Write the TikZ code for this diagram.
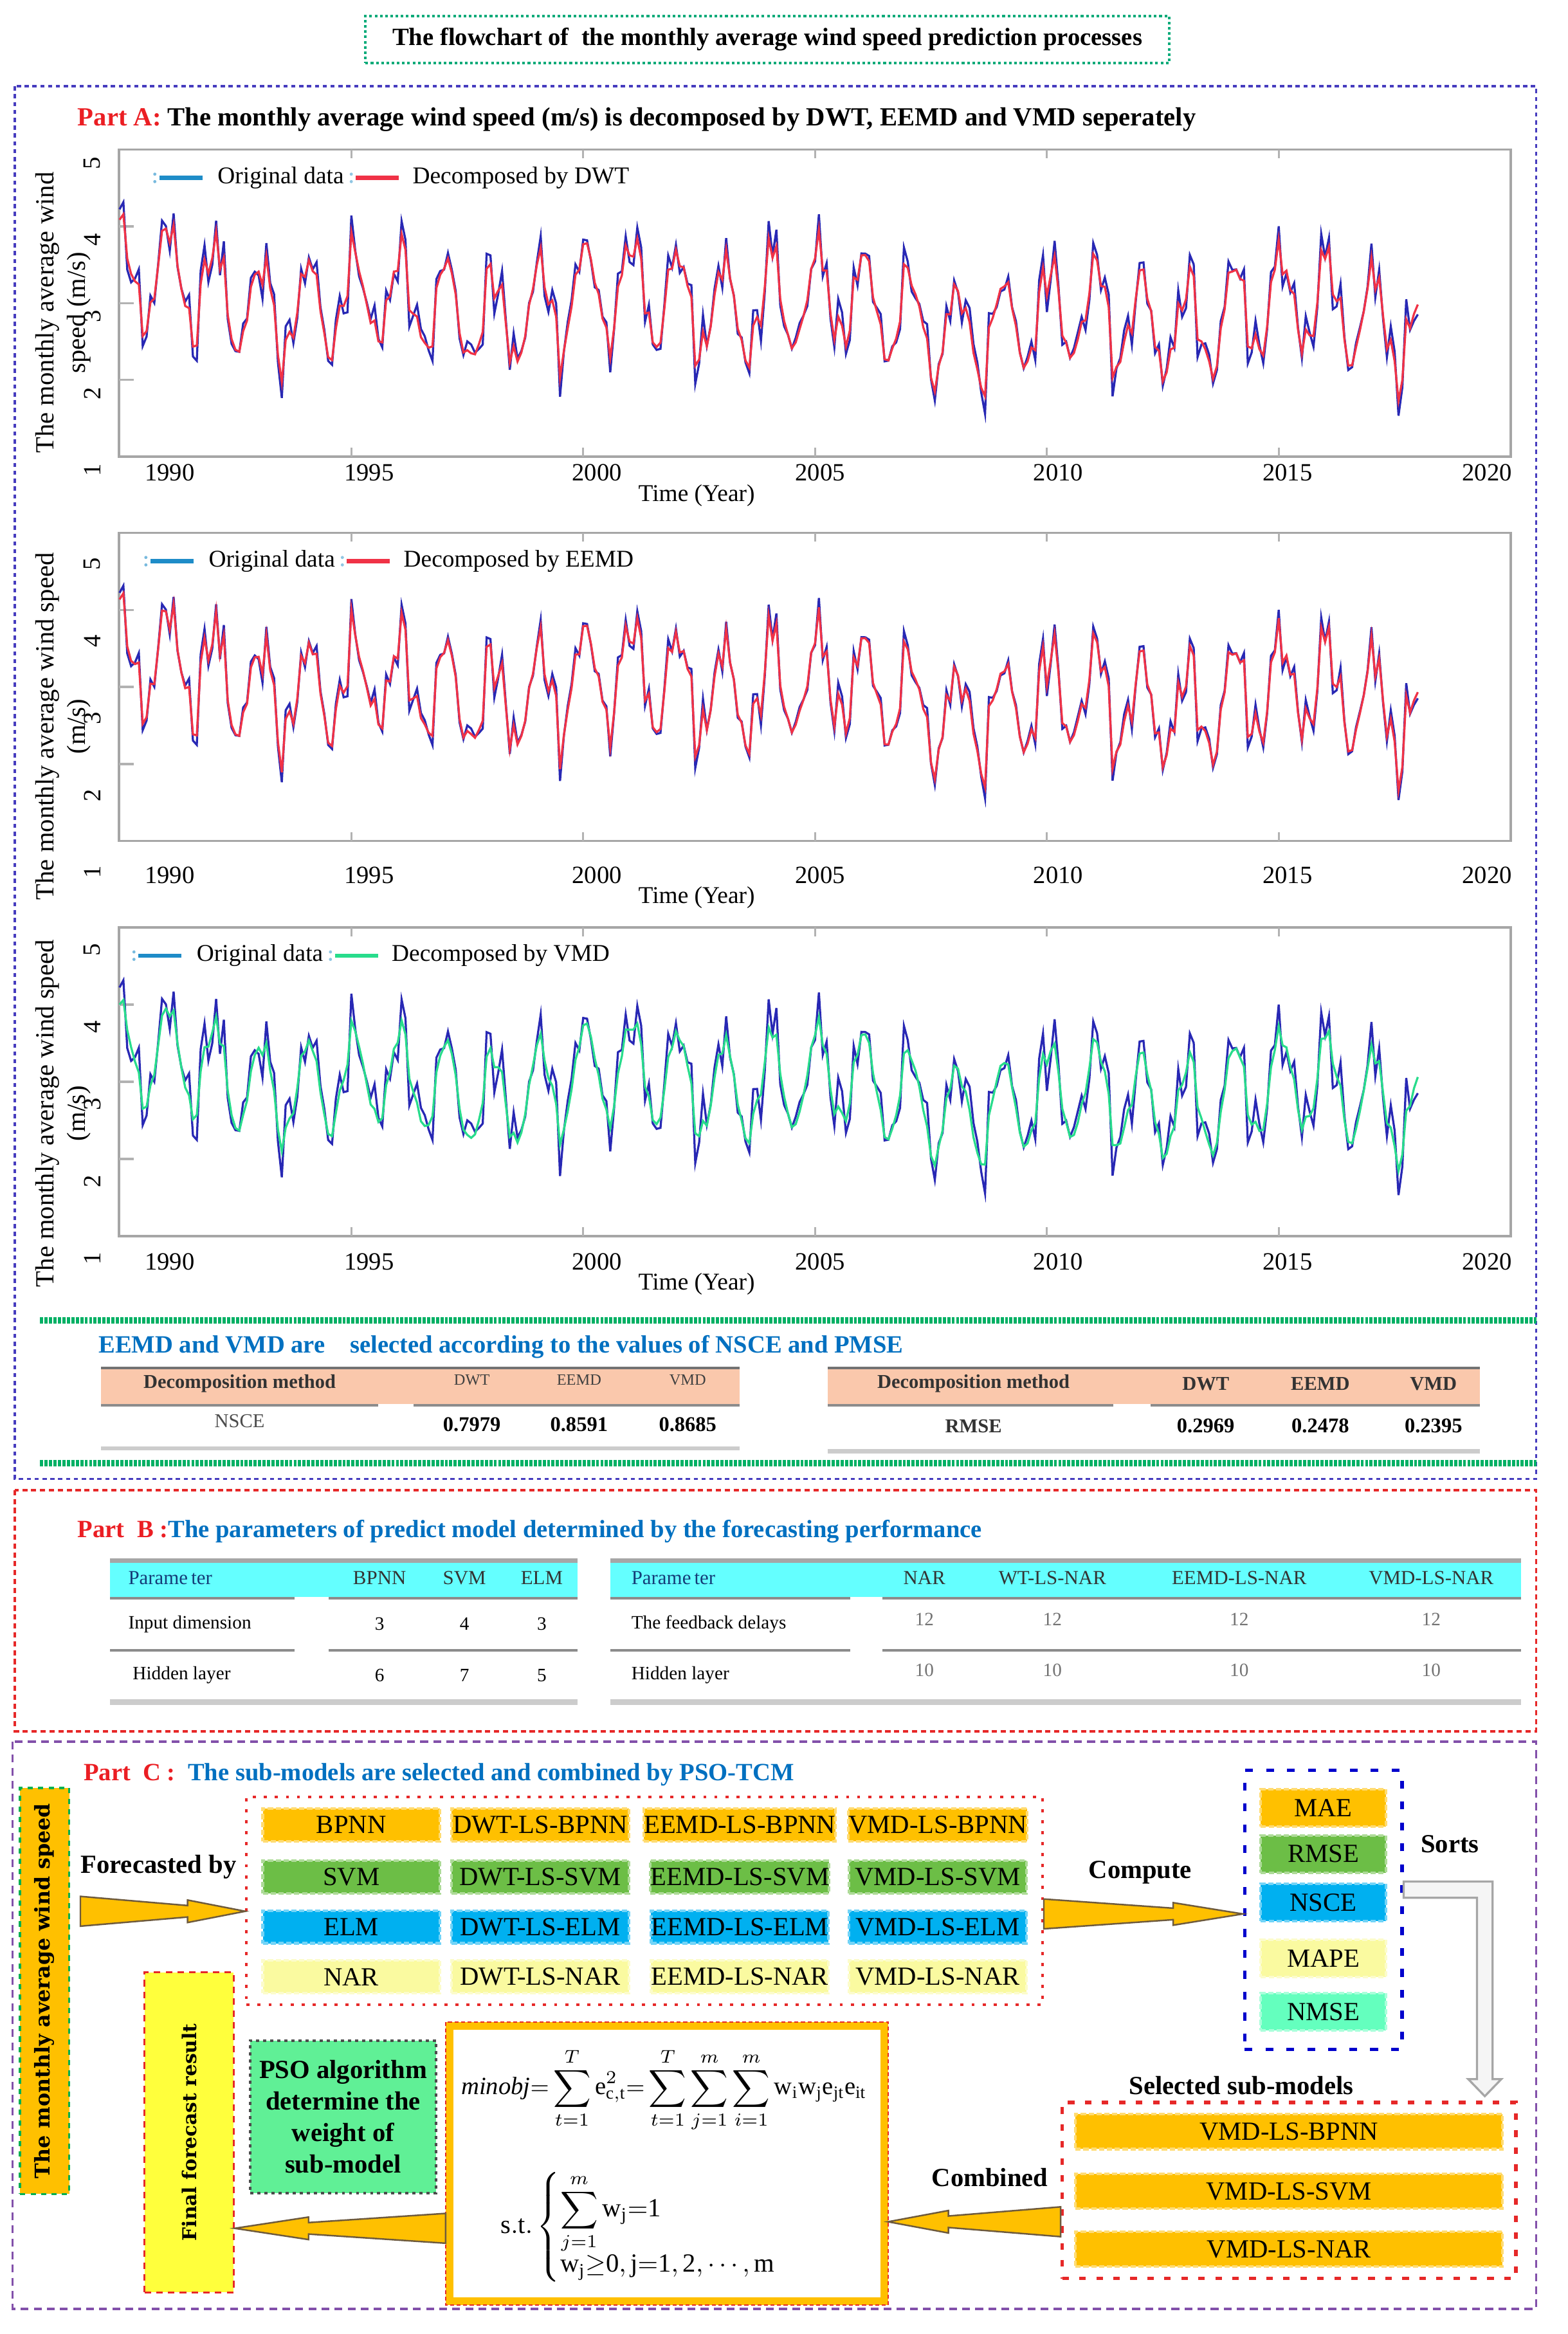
\documentclass[tikz,border=0pt]{standalone}
\usepackage{fontspec}
\setmainfont{Liberation Serif}
\newfontfamily\dvserif{DejaVu Serif}
\usetikzlibrary{calc,fit}

\definecolor{cOrange}{RGB}{255,192,0}
\definecolor{cGreen}{RGB}{108,190,70}
\definecolor{cBlue}{RGB}{0,176,240}
\definecolor{cYellow}{RGB}{250,250,160}
\definecolor{cMint}{RGB}{100,255,190}
\definecolor{cPso}{RGB}{96,240,150}
\definecolor{cFinal}{RGB}{255,255,60}
\definecolor{cSalmon}{RGB}{250,200,172}
\definecolor{cCyan}{RGB}{100,255,255}
\definecolor{cHead}{RGB}{0,112,192}
\definecolor{cRed}{RGB}{235,30,35}
\definecolor{cNavy}{RGB}{20,60,120}
\definecolor{lineBlue}{RGB}{40,40,180}
\definecolor{lineRed}{RGB}{240,50,70}
\definecolor{lineGreen}{RGB}{40,220,140}
\definecolor{legBlue}{RGB}{30,140,200}
\definecolor{boxA}{RGB}{70,60,190}
\definecolor{boxB}{RGB}{230,40,40}
\definecolor{boxC}{RGB}{130,80,170}
\definecolor{titleGreen}{RGB}{0,170,120}
\definecolor{waveGreen}{RGB}{0,176,100}
\definecolor{inGreen}{RGB}{0,176,80}
\definecolor{arrowEdge}{RGB}{110,90,60}

\newcommand\fs[1]{\fontsize{#1}{#1}\selectfont}

\newcommand\fatarrow[2]{%
  \filldraw[fatarrow] let \p1=(#1), \p2=(#2), \p3=($(#1)!0.65!(#2)$) in
    (\x1,\y1+5.7pt) -- (\x3,\y2+2.2pt) -- (\x3,\y2+4.3pt) -- (\p2)
    -- (\x3,\y2-4.3pt) -- (\x3,\y2-2.2pt) -- (\x1,\y1-5.7pt) -- cycle;}

\newcommand\sortarrow[2]{%
  \filldraw[sortarrow] let \p1=(#1), \p2=(#2) in
    (\x1,\y1+3.1pt) -- (\x2+3pt,\y1+3.1pt) -- (\x2+3pt,\y2+6.5pt) -- (\x2+6.3pt,\y2+6.5pt)
    -- (\p2) -- (\x2-6.3pt,\y2+6.5pt) -- (\x2-3pt,\y2+6.5pt) -- (\x2-3pt,\y1-3.1pt)
    -- (\x1,\y1-3.1pt) -- cycle;}

\begin{document}
\begin{tikzpicture}[x=0.02cm, y=-0.02cm,
  declare function={wind(\m,\q)=3.1+0.16*sin(6.1*\m+30)+0.12*sin(2.3*\m+100)-0.0012*\m+0.62*cos(30*\m-20)+\q*(0.26*sin(97*mod(round(\m),13)+10)+0.2*sin(151*mod(round(\m),11)+40)+0.17*sin(71*mod(round(\m),17)+80)+0.11*sin(113*mod(round(\m),7)));}]
\tikzset{
  titlebox/.style={draw=titleGreen, dash pattern=on 1pt off 1pt, line width=1pt,
    minimum width=10.8cm, minimum height=0.63cm, font=\bfseries\fs{9.5}},
  partA/.style={draw=boxA, line width=0.9pt, dash pattern=on 1.6pt off 1.4pt},
  partB/.style={draw=boxB, line width=0.9pt, dash pattern=on 2pt off 1.4pt},
  partC/.style={draw=boxC, line width=0.9pt, dash pattern=on 3pt off 2pt},
  header/.style={anchor=west, font=\bfseries\fs{9.5}},
  plotframe/.style={draw=gray!70, line width=0.9pt},
  tickmark/.style={draw=gray!60, line width=0.8pt},
  ticklabel/.style={font=\fs{9.5}, inner sep=0pt},
  waveline/.style={draw=waveGreen, line width=2.4pt, dash pattern=on 1.2pt off 0.5pt},
  toprule/.style={draw=black!55, line width=1.2pt},
  midrule/.style={draw=black!45, line width=1pt},
  botrule/.style={draw=black!20, line width=1.6pt},
  thsmall/.style={font=\fs{6}, text=black!75},
  thbold/.style={font=\bfseries\fs{7.5}, text=black!80},
  tvalue/.style={font=\bfseries\fs{8}},
  tcell/.style={font=\fs{7.2}},
  cellbox/.style={fill=#1, draw=#1!55!white, dash pattern=on 2pt off 1pt, line width=1pt,
    minimum width=2.38cm, minimum height=0.44cm, inner sep=0pt, font=\fs{10}},
  metric/.style={cellbox=#1, minimum width=1.68cm, minimum height=0.5cm},
  selbar/.style={cellbox=cOrange, minimum width=5.74cm, minimum height=0.47cm},
  gridframe/.style={draw=boxB, line width=1pt, dash pattern=on 1.2pt off 3pt},
  metricframe/.style={draw=blue!80!black, line width=1.3pt, dash pattern=on 3pt off 5pt},
  selframe/.style={draw=boxB, line width=1.3pt, dash pattern=on 2.5pt off 4pt},
  lbl/.style={font=\bfseries\fs{10}},
  fatarrow/.style={fill=cOrange, draw=arrowEdge, line width=0.6pt},
  sortarrow/.style={fill=gray!8, draw=gray!70, line width=0.8pt},
  inbox/.style={fill=cOrange, draw=inGreen, dash pattern=on 2pt off 2pt, line width=0.9pt,
    minimum width=0.66cm, minimum height=5.46cm, inner sep=0pt},
  finalbox/.style={fill=cFinal, draw=boxB, dash pattern=on 2.5pt off 2pt, line width=0.8pt,
    minimum width=1.2cm, minimum height=4.3cm, inner sep=0pt},
  psobox/.style={fill=cPso, draw=black!70, dash pattern=on 1.2pt off 1.5pt, line width=1pt,
    minimum width=2.5cm, minimum height=2.05cm, inner sep=0pt, align=center,
    font=\bfseries\fontsize{10}{12}\selectfont},
  formbox/.style={draw=cOrange, fill=white, line width=3pt, minimum width=5.84cm,
    minimum height=3.7cm, inner sep=0pt}
}
\fill[white] (0,0) rectangle (1053,1568);
\useasboundingbox (0,0) rectangle (1053,1568);

\node[titlebox] (title) at (515.5,26.5) {The flowchart of\ \ the monthly average wind speed prediction processes};

% Part A
\draw[partA] (10,58) rectangle (1032,993.5);
\node[header, font=\bfseries\fs{10}] (headA) at (46,80.5) {\textcolor{cRed}{Part A:} The monthly average wind speed (m/s) is decomposed by DWT, EEMD and VMD seperately};

\foreach \pb/\pt/\dec/\dcol/\k/\lx/\off/\ylA/\ylB/\ylc [count=\i] in
  {306.7/100.5/DWT/lineRed/0.6/107/9/{The monthly average wind}/{speed (m/s)}/210,
   565/358/EEMD/lineRed/0.75/101/21/{The monthly average wind speed}/{(m/s)}/488,
   830.5/623/VMD/lineGreen/0.35/93/15/{The monthly average wind speed}/{(m/s)}/748}
{
  \draw[plotframe] (80,\pt) rectangle (1015,\pb);
  \foreach \v in {2,3,4}
    \draw[tickmark] (80,{\pb-(\pb-\pt)/4*(\v-1)}) -- ++(10,0);
  \foreach \yr in {1995,2000,...,2015} {
    \draw[tickmark] ({80.3+31.15*(\yr-1990)},\pt) -- ++(0,6);
    \draw[tickmark] ({80.3+31.15*(\yr-1990)},\pb) -- ++(0,-6);
  }
  \draw[lineBlue, line width=0.8pt] plot[domain=0:336, samples=337]
    ({80.3+31.15*\x/12},{\pb-(\pb-\pt)/4*(wind(\x,1)-1)});
  \draw[\dcol, line width=0.8pt] plot[domain=0:336, samples=337]
    ({80.3+31.15*\x/12},{\pb-(\pb-\pt)/4*(wind(\x,\k)-1)});
  \fill[legBlue!60] (\lx-3,\pt+16.5) circle (0.6pt) (\lx-3,\pt+21.5) circle (0.6pt);
  \draw[legBlue, line width=1.6pt] (\lx,\pt+19) -- ++(29,0);
  \node[anchor=west, font=\fs{9.2}] (lga\i) at (\lx+33,\pt+19) {Original data};
  \fill[legBlue!50] (\lx+129,\pt+16.5) circle (0.6pt) (\lx+129,\pt+21.5) circle (0.6pt);
  \draw[\dcol, line width=1.6pt] (\lx+132,\pt+19) -- ++(29,0);
  \node[anchor=west, font=\fs{9.2}] (lgb\i) at (\lx+164,\pt+19) {Decomposed by \dec};
  \foreach \v in {1,...,5}
    \node[ticklabel, rotate=90] (yt\i\v) at (62,{\pb-(\pb-\pt)/4*(\v-1)+\off}) {\v};
  \foreach \yr/\xx in {1990/114,1995/248,2000/401,2005/551,2010/711,2015/865,2020/999}
    \node[ticklabel] (xt\i\yr) at (\xx,\pb+\off+2) {\yr};
  \node[font=\fs{9.2}] (tm\i) at (468,\pb+\off+17) {Time (Year)};
  \node[rotate=90, font=\fs{10}] (yla\i) at (32,\ylc) {\ylA};
  \node[rotate=90, font=\fs{10}] (ylb\i) at (53,\ylc) {\ylB};
}

\draw[waveline] (27,887) -- (1032,887);
\draw[waveline] (27,983) -- (1032,983);
\node[header, text=cHead] (selA) at (60,905) {EEMD and VMD are\ \ \ \ selected according to the values of NSCE and PMSE};

\fill[cSalmon] (68,919) rectangle (497,943);
\fill[cSalmon] (556,919) rectangle (994,943);
\draw[toprule] (68,919) -- (497,919) (556,919) -- (994,919);
\draw[midrule] (68,944) -- (254,944) (278,944) -- (497,944) (556,944) -- (748,944) (773,944) -- (994,944);
\draw[botrule] (68,973) -- (497,973) (556,975) -- (994,975);
\node[thbold] (taMethod) at (161,929.5) {Decomposition method};
\node[font=\fs{7.5}, text=black!70] (taNSCE) at (161,954.6) {NSCE};
\node[thbold] (tbMethod) at (654,929.5) {Decomposition method};
\node[thbold] (tbRMSE) at (654,958) {RMSE};
\foreach \nm/\xa/\xb/\va/\vb in {DWT/317/810/0.7979/0.2969, EEMD/389/887/0.8591/0.2478, VMD/462/963/0.8685/0.2395} {
  \node[thsmall] (ha\nm) at (\xa,927) {\nm};
  \node[tvalue] (va\nm) at (\xa,956.8) {\va};
  \node[thbold] (hb\nm) at (\xb,929.5) {\nm};
  \node[tvalue] (vb\nm) at (\xb,958) {\vb};
}

% Part B
\draw[partB] (10,1001) rectangle (1032,1163);
\node[header] (headB) at (46,1029) {\textcolor{cRed}{Part\ \ B :}\textcolor{cHead}{The parameters of predict model determined by the forecasting performance}};
\fill[cCyan] (74,1049) rectangle (388,1073);
\fill[cCyan] (410,1049) rectangle (1022,1073);
\draw[toprule, draw=black!35, line width=1.6pt] (74,1048.4) -- (388,1048.4) (410,1048.4) -- (1022,1048.4);
\foreach \yy in {1073.6,1108.5}
  \draw[midrule] (74,\yy) -- (198,\yy) (221,\yy) -- (388,\yy) (410,\yy) -- (571,\yy) (593,\yy) -- (1022,\yy);
\draw[botrule, line width=2pt] (74,1143.5) -- (388,1143.5) (410,1143.5) -- (1022,1143.5);
\node[anchor=west, font=\fs{7.6}, text=cNavy] (pbPar1) at (80,1060) {Parame\,ter};
\node[anchor=west, tcell] (pbIn) at (80,1091) {Input dimension};
\node[anchor=west, tcell] (pbHid1) at (83,1125.5) {Hidden layer};
\foreach \nm/\xx/\a/\b in {BPNN/255/3/6, SVM/312/4/7, ELM/364/3/5} {
  \node[font=\fs{7.6}, text=black!80] (pbh\nm) at (\xx,1060) {\nm};
  \node[tcell] (pbi\nm) at (\xx,1091) {\a};
  \node[tcell] (pbl\nm) at (\xx,1125.5) {\b};
}
\node[anchor=west, font=\fs{7.6}, text=cNavy] (pbPar2) at (418,1060) {Parame\,ter};
\node[anchor=west, tcell] (pbFb) at (418,1091) {The feedback delays};
\node[anchor=west, tcell] (pbHid2) at (418,1125.5) {Hidden layer};
\foreach \nm/\xx [count=\c] in {NAR/621, WT-LS-NAR/707, EEMD-LS-NAR/832.5, VMD-LS-NAR/961.5} {
  \node[font=\fs{7.6}, text=black!80] (pbn\c) at (\xx,1060) {\nm};
  \node[tcell, text=black!55] (pbd\c) at (\xx,1088) {12};
  \node[tcell, text=black!55] (pbk\c) at (\xx,1122) {10};
}

% Part C
\draw[partC] (8.4,1170) rectangle (1032,1551);
\node[header] (headC) at (50,1192) {\textcolor{cRed}{Part\ \ C :}\ \ \textcolor{cHead}{The sub-models are selected and combined by PSO-TCM}};

\foreach \nm/\col/\yy in {BPNN/cOrange/1226, SVM/cGreen/1261, ELM/cBlue/1294.5, NAR/cYellow/1328} {
  \node[cellbox=\col] (\nm) at (236,\yy) {\nm};
  \node[cellbox=\col] (dwt\nm) at (363,\yy) {DWT-LS-\nm};
  \node[cellbox=\col] (eemd\nm) at (497,\yy) {EEMD-LS-\nm};
  \node[cellbox=\col] (vmd\nm) at (630,\yy) {VMD-LS-\nm};
}
\node[gridframe, fit=(BPNN)(vmdNAR), inner xsep=0.2cm, inner ysep=0.14cm] (models) {};

\foreach \nm/\col/\yy in {MAE/cOrange/1214.5, RMSE/cGreen/1245.5, NSCE/cBlue/1278, MAPE/cYellow/1315.5, NMSE/cMint/1351.5}
  \node[metric=\col] (m\nm) at (889,\yy) {\nm};
\node[metricframe, fit=(mMAE)(mNMSE), inner xsep=0.2cm, inner ysep=0.24cm] (metrics) {};

\foreach \nm/\yy [count=\c] in {BPNN/1432, SVM/1472, NAR/1511}
  \node[selbar] (sel\c) at (866,\yy) {VMD-LS-\nm};
\node[selframe, fit=(sel1)(sel3), inner xsep=0.16cm, inner ysep=0.14cm] (selbox) {};

\node[inbox] (input) at (30,1337.5) {\rotatebox{90}{\dvserif\bfseries\fs{7.8}The monthly average wind speed}};
\node[finalbox] (final) at (127,1432.5) {\rotatebox{90}{\dvserif\bfseries\fs{7.3}Final forecast result}};
\node[psobox] (pso) at (230.5,1422) {PSO algorithm\\determine the\\weight of\\sub-model};

\node[formbox] (formula) at (448,1453.5) {};
\draw[boxB, dash pattern=on 1.5pt off 1pt, line width=0.6pt] (formula.north west) rectangle (formula.south east);
\node[font=\fs{9.5}, inner sep=0pt] (objective) at (446,1404)
  {$\displaystyle\mathit{minobj}{=}\sum_{t=1}^{T}\mathrm{e}^{2}_{\mathrm{c,t}}{=}\sum_{t=1}^{T}\sum_{j=1}^{m}\sum_{i=1}^{m}\mathrm{w_iw_je_{jt}e_{it}}$};
\node[anchor=west, font=\fs{10}, inner sep=0pt] (constraint) at (336,1496)
  {$\mathrm{s.t.}\left\{\begin{array}{@{}l}\displaystyle\sum_{j=1}^{m}\mathrm{w_j{=}1}\\[8pt]\mathrm{w_j{\geq}0,j{=}1,2,\cdots,m}\end{array}\right.$};

\node[lbl] (fcby) at (106.5,1254) {Forecasted by};
\node[lbl] (cmp) at (766,1258) {Compute};
\node[lbl] (srt) at (974,1239) {Sorts};
\node[lbl] (seltitle) at (834,1401) {Selected sub-models};
\node[lbl] (cmb) at (665,1463) {Combined};

\coordinate (fcTail) at (54,1284);
\coordinate (cpTail) at ([yshift=-5pt]models.east);
\coordinate (cbTail) at ([yshift=-12pt]selbox.west);
\coordinate (fnTail) at ([yshift=-24.75pt]formula.west);
\coordinate (srtA) at ([yshift=7.7pt]metrics.east);
\coordinate (srtB) at ($(selbox.north east)+(-22,-3)$);

\fatarrow{fcTail}{models.west |- fcTail}
\fatarrow{cpTail}{metrics.west |- cpTail}
\fatarrow{cbTail}{formula.east |- cbTail}
\fatarrow{fnTail}{final.east |- fnTail}
\sortarrow{srtA}{srtB}

\end{tikzpicture}
\end{document}
